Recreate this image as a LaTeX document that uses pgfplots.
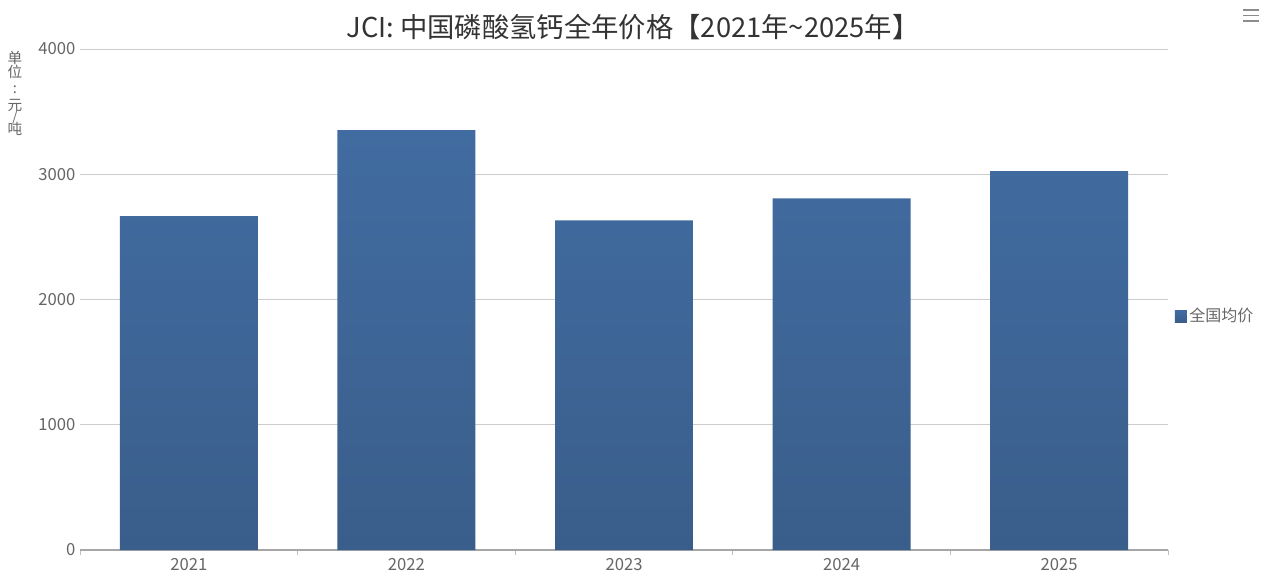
\documentclass[border=0pt]{standalone}
\usepackage{pgfplots}
\pgfplotsset{compat=1.18}
\usepackage{fontspec}
\setmainfont{Noto Sans CJK SC}
\definecolor{bartop}{HTML}{416CA1}
\definecolor{barbot}{HTML}{3A5E8B}
\definecolor{tickgray}{HTML}{666666}
\definecolor{titlegray}{HTML}{333333}
\definecolor{gridgray}{HTML}{CCCCCC}
\begin{document}
\begin{tikzpicture}
\path[use as bounding box] (0pt,0pt) rectangle (952.5pt,437.25pt);
% pixel (px,py) from top-left -> (0.75*px pt, 0.75*(583-py) pt)
\begin{axis}[
  at={(60pt,24.75pt)}, anchor=south west,
  width=816pt, height=375.75pt, scale only axis,
  xmin=-0.5, xmax=4.5, ymin=0, ymax=4000,
  xtick={0,1,2,3,4},
  xticklabels={2021,2022,2023,2024,2025},
  minor xtick={-0.5,0.5,1.5,2.5,3.5,4.5},
  ytick={0,1000,2000,3000,4000},
  major tick length=0pt, minor tick length=4pt,
  tick align=outside,
  xtick pos=bottom, ytick pos=left,
  axis x line*=bottom, axis y line*=left,
  x axis line style={-, draw=black!35, line width=0.8pt},
  y axis line style={draw=none},
  minor tick style={draw=black!25, line width=0.6pt},
  ymajorgrids, grid style={gridgray, line width=0.6pt},
  /pgf/number format/assume math mode=true,
  /pgf/number format/set thousands separator={},
  ticklabel style={font=\fontsize{12.5pt}{14pt}\selectfont, text=tickgray},
  xticklabel style={yshift=-3pt},
  yticklabel style={xshift=0pt},
  legend style={at={(1.006,0.467)}, anchor=west, draw=none, fill=none,
    font=\fontsize{12pt}{14pt}\selectfont, text=tickgray, inner sep=0pt,
    legend cell align=left},
  legend image code/.code={\fill[bartop] (0pt,-4.7pt) rectangle (9pt,4.3pt);},
]
\addplot[ybar, bar width=0.634, draw=none, top color=bartop, bottom color=barbot]
  coordinates {(0,2665) (1,3352) (2,2632) (3,2808) (4,3024)};
\addlegendentry{全国均价}
\end{axis}
\node[anchor=center, text=titlegray, font=\fontsize{20.5pt}{23pt}\selectfont] at (474.75pt,417pt) {JCI: 中国磷酸氢钙全年价格【2021年\textasciitilde 2025年】};
\begin{scope}[every node/.style={anchor=center, text=tickgray, font=\fontsize{11pt}{12pt}\selectfont, inner sep=0pt}]
\node at (11.25pt,394.1pt) {单};
\node at (11.25pt,383pt) {位};
\node at (11.25pt,369.75pt) {:};
\node at (11.25pt,358.5pt) {元};
\node[font=\fontsize{10pt}{10pt}\selectfont] at (11.25pt,349.1pt) {/};
\node at (11.25pt,340.9pt) {吨};
\end{scope}
\draw[black!45, line width=1.2pt] (932.25pt,429.75pt) -- (944.25pt,429.75pt) (932.25pt,425.6pt) -- (944.25pt,425.6pt) (932.25pt,421.5pt) -- (944.25pt,421.5pt);
\end{tikzpicture}
\end{document}
